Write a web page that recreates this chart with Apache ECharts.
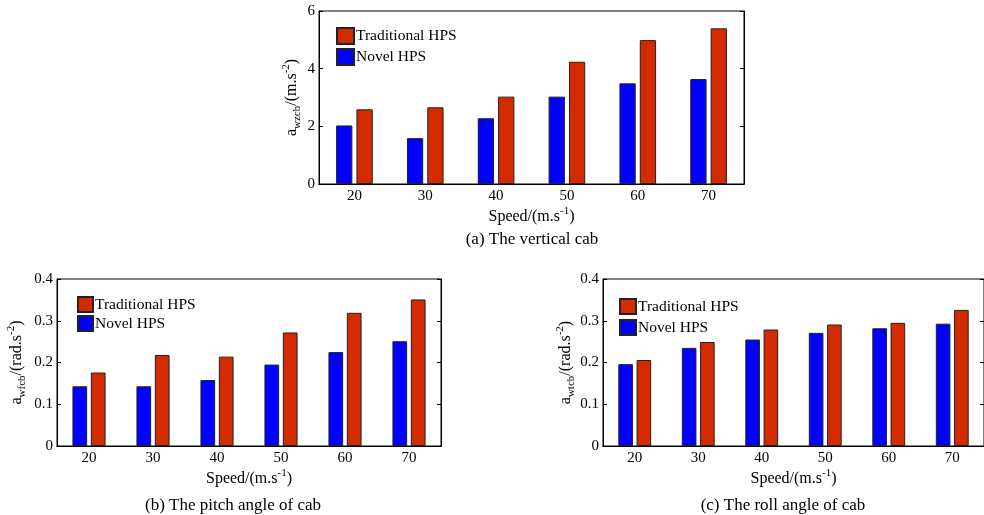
<!DOCTYPE html>
<html>
<head>
<meta charset="utf-8">
<script src="https://cdn.jsdelivr.net/npm/echarts@6/dist/echarts.min.js"></script>
<style>html,body{margin:0;padding:0;background:#fff}#c{width:984px;height:515px}</style>
</head>
<body>
<div id="c"></div>
<script>
const speeds = ['20', '30', '40', '50', '60', '70'];
const vertNovel = [2.03, 1.59, 2.28, 3.03, 3.49, 3.64];
const vertTrad  = [2.59, 2.66, 3.03, 4.24, 4.99, 5.40];
const pitchNovel = [0.143, 0.143, 0.158, 0.195, 0.225, 0.251];
const pitchTrad  = [0.176, 0.218, 0.214, 0.272, 0.319, 0.351];
const rollNovel = [0.196, 0.235, 0.255, 0.271, 0.282, 0.293];
const rollTrad  = [0.206, 0.249, 0.279, 0.291, 0.295, 0.326];
const names = ['Traditional HPS', 'Novel HPS'];
const captions = ['(a) The vertical cab', '(b) The pitch angle of cab', '(c) The roll angle of cab'];

const FONT = '"Liberation Serif", "DejaVu Serif", serif';
const RED = '#D42A00', BLUE = '#0000FF';

const grids = [
  {left: 319, top: 11, width: 425, height: 173},
  {left: 57, top: 279, width: 384, height: 167},
  {left: 603, top: 279, width: 383, height: 167}
];
const yCfg = [
  {max: 6, interval: 2, sub: 'wzcb', unit: 'm.s', gap: 16},
  {max: 0.4, interval: 0.1, sub: 'wfcb', unit: 'rad.s', gap: 29},
  {max: 0.4, interval: 0.1, sub: 'wtcb', unit: 'rad.s', gap: 25}
];
const seriesData = [[vertNovel, vertTrad], [pitchNovel, pitchTrad], [rollNovel, rollTrad]];

const rich = {
  n: {fontFamily: FONT, fontSize: 16, color: '#000', lineHeight: 22},
  sup: {fontFamily: FONT, fontSize: 11, color: '#000', verticalAlign: 'top', lineHeight: 22},
  sub: {fontFamily: FONT, fontSize: 11, color: '#000', verticalAlign: 'bottom', lineHeight: 22}
};

const xAxis = [], yAxis = [], series = [], legend = [], title = [];
grids.forEach((g, i) => {
  xAxis.push({
    type: 'category', gridIndex: i, data: speeds, position: 'bottom',
    axisLine: {lineStyle: {color: '#000', width: 1}},
    axisTick: {inside: true, alignWithLabel: true, length: 4, lineStyle: {color: '#000'}},
    axisLabel: {fontFamily: FONT, fontSize: 15, color: '#000', margin: 5},
    name: '{n|Speed/(m.s}{sup|-1}{n|)}', nameLocation: 'middle', nameGap: 22,
    nameTextStyle: {rich: rich}
  });
  xAxis.push({
    type: 'category', gridIndex: i, data: speeds, position: 'top',
    axisLine: {lineStyle: {color: '#000', width: 1}},
    axisTick: {inside: true, alignWithLabel: true, length: 4, lineStyle: {color: '#000'}},
    axisLabel: {show: false}
  });
  const c = yCfg[i];
  yAxis.push({
    type: 'value', gridIndex: i, min: 0, max: c.max, interval: c.interval, position: 'left',
    splitLine: {show: false},
    axisLine: {show: true, lineStyle: {color: '#000', width: 1}},
    axisTick: {show: true, inside: true, length: 4, lineStyle: {color: '#000'}},
    axisLabel: {fontFamily: FONT, fontSize: 15, color: '#000', margin: 4},
    name: '{n|a}{sub|' + c.sub + '}{n|/(' + c.unit + '}{sup|-2}{n|)}',
    nameLocation: 'middle', nameRotate: 90, nameGap: c.gap,
    nameTextStyle: {rich: rich}
  });
  yAxis.push({
    type: 'value', gridIndex: i, min: 0, max: c.max, interval: c.interval, position: 'right',
    splitLine: {show: false},
    axisLine: {show: true, lineStyle: {color: '#000', width: 1}},
    axisTick: {show: true, inside: true, length: 4, lineStyle: {color: '#000'}},
    axisLabel: {show: false}
  });
  const [nov, trad] = seriesData[i];
  series.push({
    type: 'bar', name: names[1], xAxisIndex: 2 * i, yAxisIndex: 2 * i, data: nov,
    barWidth: '23%', barGap: '25%',
    itemStyle: {color: BLUE, borderColor: '#222', borderWidth: 1}
  });
  series.push({
    type: 'bar', name: names[0], xAxisIndex: 2 * i, yAxisIndex: 2 * i, data: trad,
    barWidth: '23%', barGap: '25%',
    itemStyle: {color: RED, borderColor: '#222', borderWidth: 1}
  });
});

const legPos = [[336, 27, 17, 16, 3], [77, 296, 15, 15, 2], [619, 298, 16, 15, 4]];
legPos.forEach(p => {
  legend.push({left: p[0], top: p[1], padding: 0, orient: 'vertical', data: names, icon: 'rect',
    itemWidth: p[2], itemHeight: p[3], itemGap: p[4],
    textStyle: {fontFamily: FONT, fontSize: 15.5, color: '#000', padding: [0, 0, 0, -3]}});
});

const capPos = [[532, 231], [233, 497], [783, 497]];
captions.forEach((t, i) => {
  title.push({text: t, left: capPos[i][0], top: capPos[i][1], textAlign: 'center', padding: 0,
    textStyle: {fontFamily: FONT, fontSize: 17, fontWeight: 'normal', color: '#000'}});
});

const chart = echarts.init(document.getElementById('c'), null, {renderer: 'canvas'});
chart.setOption({
  animation: false,
  backgroundColor: '#fff',
  title: title,
  legend: legend,
  grid: grids.map(g => Object.assign({show: true, borderColor: '#000', borderWidth: 1, containLabel: false}, g)),
  xAxis: xAxis,
  yAxis: yAxis,
  series: series
});
</script>
</body>
</html>
